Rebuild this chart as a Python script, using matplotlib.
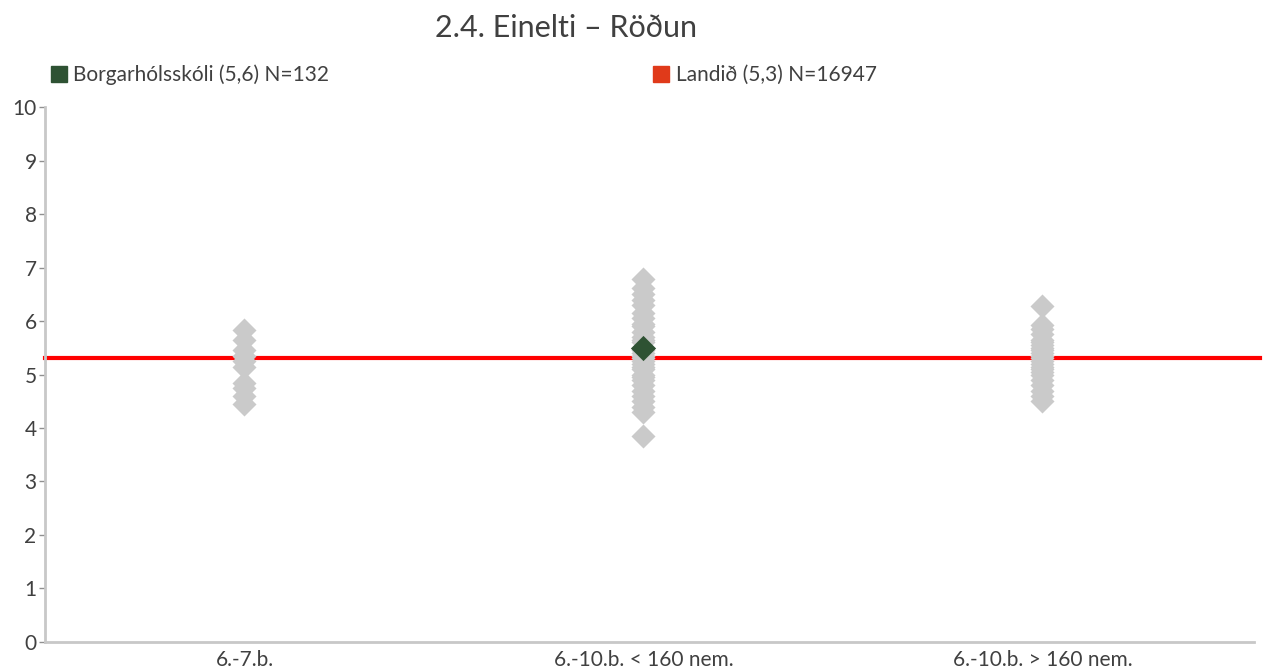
import matplotlib
matplotlib.use("Agg")
import matplotlib.pyplot as plt
from matplotlib.lines import Line2D

plt.rcParams['font.family'] = ['Lato', 'DejaVu Sans']

categories = ['6.-7.b.', '6.-10.b. < 160 nem.', '6.-10.b. > 160 nem.']
# other schools, one list per category
schools_67 = [5.83, 5.65, 5.45, 5.35, 5.25, 5.15, 4.85, 4.75, 4.6, 4.45]
schools_small = [6.78, 6.62, 6.5, 6.4, 6.3, 6.15, 6.05, 5.95, 5.9, 5.8, 5.7, 5.65,
                 5.6, 5.5, 5.45, 5.4, 5.35, 5.3, 5.25, 5.2, 5.15, 5.1, 5.0, 4.95,
                 4.9, 4.8, 4.7, 4.6, 4.5, 4.4, 4.3, 3.85]
schools_large = [6.28, 5.92, 5.85, 5.75, 5.65, 5.6, 5.55, 5.5, 5.45, 5.4, 5.35, 5.3,
                 5.25, 5.2, 5.15, 5.1, 5.05, 5.0, 4.9, 4.8, 4.7, 4.6, 4.5]
school_cat = 1
school_value = 5.5
national_value = 5.3
school_label = 'Borgarhólsskóli (5,6) N=132'
national_label = 'Landið (5,3) N=16947'

txt = '#404040'
gray = '#cacaca'
green = '#2e5233'

fig = plt.figure(figsize=(12.66, 6.70), dpi=100)
ax = fig.add_axes([0.0355, 0.042, 0.955, 0.798])

ax.axhline(national_value, xmin=0, xmax=1.005, color='#ff0000', lw=3, zorder=1, clip_on=False)
for i, vals in enumerate([schools_67, schools_small, schools_large]):
    ax.scatter([i] * len(vals), vals, marker='D', s=150, color=gray, lw=0, zorder=2)
ax.scatter([school_cat], [school_value], marker='D', s=165, color=green, lw=0, zorder=3)

ax.set_xlim(-0.5, 2.53)
ax.set_ylim(0, 10)
ax.set_yticks(range(0, 11))
ax.set_xticks(range(len(categories)))
ax.set_xticklabels(categories)
for s in ['top', 'right']:
    ax.spines[s].set_visible(False)
for s in ['left', 'bottom']:
    ax.spines[s].set_color('#c8c8c8')
    ax.spines[s].set_linewidth(2)
ax.tick_params(axis='y', colors='#909090', labelcolor=txt, labelsize=15, length=4, width=1, pad=2)
ax.tick_params(axis='x', length=0, labelcolor=txt, labelsize=15, pad=6)

fig.text(0.447, 0.958, '2.4. Einelti – Röðun', ha='center', va='center', fontsize=22, color=txt)

for label, col, xpos in [(school_label, green, 0.038), (national_label, '#e03a1a', 0.514)]:
    h = Line2D([], [], marker='s', ls='', color=col, markersize=12)
    leg = fig.legend(handles=[h], labels=[label], loc='center left', bbox_to_anchor=(xpos, 0.888),
                     frameon=False, fontsize=15, handletextpad=0.2, handlelength=1.0,
                     borderaxespad=0, borderpad=0)
    for t in leg.get_texts():
        t.set_color(txt)

fig.savefig('out.png', dpi=100)
